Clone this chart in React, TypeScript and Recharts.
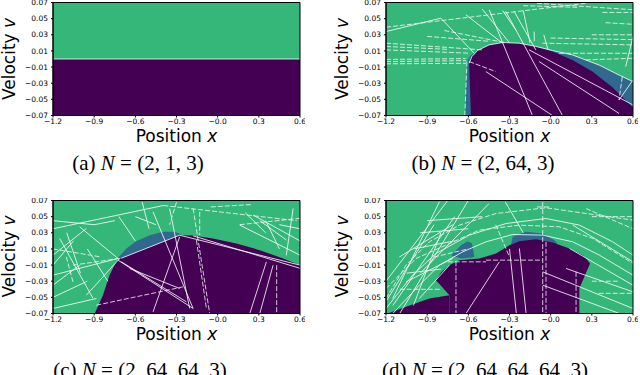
import React from 'react';
import { ComposedChart, XAxis, YAxis, Area, Line } from 'recharts';

const GREEN = '#35b779';
const PURPLE = '#440154';
const BLUE = '#31688e';
const SANS = '"DejaVu Sans", sans-serif';
const SERIF = '"Liberation Serif", "DejaVu Serif", serif';

// axis ticks
const xTicks = [-1.2, -0.9, -0.6, -0.3, 0, 0.3, 0.6];
const xTickLabels = ['−1.2', '−0.9', '−0.6', '−0.3', '−0.0', '0.3', '0.6'];
const yTicks = [-0.07, -0.05, -0.03, -0.01, 0.01, 0.03, 0.05, 0.07];
const yTickLabels = ['−0.07', '−0.05', '−0.03', '−0.01', '0.01', '0.03', '0.05', '0.07'];

const captions = ['(a)', '(b)', '(c)', '(d)'];
const architectures = ['(2, 1, 3)', '(2, 64, 3)', '(2, 64, 64, 3)', '(2, 64, 64, 64, 3)'];

type Range = { x: number; lo: number; hi: number };
type Pt = [number, number];

// ---- (a) N = (2,1,3)
const aPurple: Range[][] = [[
  { x: -1.2, lo: -0.07, hi: 0 },
  { x: 0.6, lo: -0.07, hi: 0 },
]];
const aBlue: Range[][] = [];
const aSolid: Pt[][] = [[[-1.2, 0], [0.6, 0]]];
const aDashed: Pt[][] = [];

// ---- (b) N = (2,64,3)
const bBlue: Range[][] = [[
  { x: -0.625, lo: -0.07, hi: -0.07 },
  { x: -0.61, lo: -0.07, hi: -0.003 },
  { x: -0.585, lo: -0.07, hi: 0.004 },
  { x: -0.533, lo: -0.07, hi: 0.0105 },
  { x: -0.448, lo: -0.07, hi: 0.0175 },
  { x: -0.351, lo: -0.07, hi: 0.0204 },
  { x: -0.23, lo: -0.07, hi: 0.0196 },
  { x: -0.108, lo: -0.07, hi: 0.0156 },
  { x: 0.013, lo: -0.07, hi: 0.0105 },
  { x: 0.159, lo: -0.07, hi: 0.005 },
  { x: 0.353, lo: -0.07, hi: -0.0075 },
  { x: 0.5, lo: -0.07, hi: -0.02 },
  { x: 0.6, lo: -0.07, hi: -0.028 },
]];
const bPurple: Range[][] = [[
  { x: -0.594, lo: -0.0053, hi: -0.0053 },
  { x: -0.581, lo: -0.07, hi: 0.0003 },
  { x: -0.574, lo: -0.07, hi: 0.003 },
  { x: -0.533, lo: -0.07, hi: 0.0105 },
  { x: -0.448, lo: -0.07, hi: 0.0175 },
  { x: -0.351, lo: -0.07, hi: 0.0204 },
  { x: -0.23, lo: -0.07, hi: 0.0196 },
  { x: -0.108, lo: -0.07, hi: 0.0154 },
  { x: 0.013, lo: -0.07, hi: 0.0092 },
  { x: 0.159, lo: -0.07, hi: -0.0012 },
  { x: 0.304, lo: -0.07, hi: -0.0156 },
  { x: 0.45, lo: -0.07, hi: -0.0351 },
  { x: 0.6, lo: -0.07, hi: -0.06 },
]];
const bSolid: Pt[][] = [
  [[-0.594, -0.0053], [-0.574, 0.003], [-0.533, 0.0105], [-0.448, 0.0175], [-0.351, 0.0204], [-0.23, 0.0196], [-0.108, 0.0156], [0.013, 0.0105], [0.159, 0.005], [0.353, -0.0075], [0.5, -0.02], [0.6, -0.028]],
  [[-1.2, 0.034], [-0.8, 0.0506]],
  [[-0.8, 0.0506], [-0.557, 0.0071]],
  [[-0.618, 0.0548], [-0.351, 0.0196]],
  [[-0.448, 0.061], [-0.133, -0.07]],
  [[-0.327, 0.0589], [0.086, -0.07]],
  [[-0.266, 0.0589], [-0.108, 0.0113]],
  [[-0.157, 0.0113], [0.6, -0.057]],
  [[-0.084, -0.0032], [0.498, -0.0674]],
  [[-0.472, -0.0156], [0.013, -0.07]],
  [[0.547, -0.0094], [0.6, 0.0279]],
  [[0.498, -0.0508], [0.6, -0.026]],
  [[-0.12, 0.034], [-0.12, 0.022]],
  [[-0.35, 0.06], [-0.25, 0.035]],
  [[-0.5, 0.062], [-0.3, 0.02]],
  [[-0.2, 0.06], [-0.15, 0.02]],
  [[-0.05, 0.03], [-0.02, 0.012]],
];
const bDashed: Pt[][] = [
  [[-1.2, 0.0394], [0.256, 0.069]],
  [[-0.1, 0.069], [0.6, 0.061]],
  [[-0.775, 0.0353], [-0.339, 0.0204]],
  [[-0.594, -0.0032], [-0.4, -0.0156]],
  [[-1.2, 0.0113], [-0.594, 0.0072]],
  [[-1.2, -0.0032], [-0.618, -0.002]],
  [[-1.2, -0.006], [-0.618, -0.0053]],
  [[-1.2, 0.0196], [-0.496, 0.0113]],
  [[-1.2, 0.0155], [-0.75, 0.012]],
  [[-1.2, -0.0005], [-0.62, 0.0005]],
  [[-0.9, 0.028], [-0.45, 0.022]],
  [[-0.2, 0.066], [0.2, 0.064]],
  [[0.377, 0.0577], [0.6, 0.0577]],
  [[0.4, 0.045], [0.6, 0.043]],
  [[0.3, 0.03], [0.6, 0.03]],
  [[0.0, 0.026], [0.6, 0.024]],
  [[-0.06, 0.0196], [0.6, 0.0175]],
  [[0.061, 0.0071], [0.6, 0.0071]],
  [[0.256, -0.0011], [0.6, 0.0009]],
  [[0.522, -0.022], [0.498, -0.0508]],
  [[-0.625, -0.07], [-0.61, -0.003]],
];

// ---- (c) N = (2,64,64,3)
const cBlue: Range[][] = [[
  { x: -0.735, lo: -0.006, hi: -0.006 },
  { x: -0.726, lo: -0.01, hi: -0.001 },
  { x: -0.665, lo: -0.01, hi: 0.0106 },
  { x: -0.593, lo: -0.01, hi: 0.0196 },
  { x: -0.495, lo: 0, hi: 0.027 },
  { x: -0.398, lo: 0.01, hi: 0.0312 },
  { x: -0.313, lo: 0.015, hi: 0.0312 },
  { x: -0.264, lo: 0.02, hi: 0.028 },
]];
const cPurple: Range[][] = [[
  { x: -0.896, lo: -0.07, hi: -0.07 },
  { x: -0.836, lo: -0.07, hi: -0.0473 },
  { x: -0.787, lo: -0.07, hi: -0.022 },
  { x: -0.738, lo: -0.07, hi: -0.006 },
  { x: -0.702, lo: -0.07, hi: -0.0015 },
  { x: -0.593, lo: -0.07, hi: 0.0056 },
  { x: -0.471, lo: -0.07, hi: 0.0139 },
  { x: -0.374, lo: -0.07, hi: 0.0204 },
  { x: -0.277, lo: -0.07, hi: 0.027 },
  { x: -0.179, lo: -0.07, hi: 0.0265 },
  { x: -0.034, lo: -0.07, hi: 0.023 },
  { x: 0.137, lo: -0.07, hi: 0.0167 },
  { x: 0.307, lo: -0.07, hi: 0.0085 },
  { x: 0.477, lo: -0.07, hi: -0.0018 },
  { x: 0.6, lo: -0.07, hi: -0.0101 },
]];
const cSolid: Pt[][] = [
  [[-1.2, 0.035], [-0.396, 0.0638]],
  [[-1.006, 0.0374], [-0.726, -0.0018]],
  [[-1.2, 0.0023], [-0.957, 0.0353]],
  [[-1.2, -0.0225], [-0.726, -0.0018]],
  [[-1.151, 0.0229], [-0.908, -0.0514]],
  [[-1.2, -0.0349], [-1.006, -0.0101]],
  [[-0.957, -0.0473], [-0.714, -0.0018]],
  [[-1.2, -0.0638], [-0.884, -0.0514]],
  [[-1.2, 0.045], [-0.9, 0.04]],
  [[-1.1, 0.03], [-1.0, -0.02]],
  [[-1.2, -0.01], [-1.05, 0.02]],
  [[-0.95, 0.01], [-0.8, -0.03]],
  [[-1.2, -0.05], [-0.95, -0.03]],
  [[-0.9, 0.04], [-0.75, 0.045]],
  [[-0.72, 0.05], [-0.6, 0.02]],
  [[-0.6, 0.05], [-0.45, 0.04]],
  [[-0.726, -0.0039], [-0.179, -0.0638]],
  [[-0.702, -0.006], [-0.228, -0.0555]],
  [[-0.471, 0.056], [-0.179, -0.0638]],
  [[-0.35, 0.06], [-0.204, -0.0638]],
  [[-0.277, 0.025], [-0.471, -0.068]],
  [[-0.641, -0.0142], [-0.277, -0.039]],
  [[0.355, -0.006], [0.234, -0.07]],
  [[0.404, -0.0101], [0.307, -0.07]],
  [[-0.702, -0.0015], [-0.277, 0.027]],
  [[-0.277, 0.027], [0.6, -0.0101]],
  [[-0.179, 0.0262], [0.6, -0.014]],
  [[0.161, 0.0395], [0.6, 0.0023]],
  [[0.258, 0.0519], [0.6, 0.02]],
  [[0.307, 0.045], [0.501, 0.021]],
  [[0.55, 0.06], [0.5, 0.002]],
  [[0.2, 0.055], [0.35, 0.03]],
  [[0.45, 0.04], [0.6, 0.035]],
  [[0.35, 0.045], [0.45, 0.01]],
  [[-0.55, 0.068], [-0.5, 0.035]],
];
const cDashed: Pt[][] = [
  [[-0.396, 0.0638], [0.576, 0.045]],
  [[-0.884, -0.0597], [-0.252, -0.037]],
  [[-0.179, 0.0601], [-0.058, -0.07]],
  [[-0.131, 0.056], [-0.131, 0.0271]],
  [[-0.155, 0.0209], [-0.082, -0.0638]],
  [[0.43, -0.0101], [0.43, -0.07]],
  [[-1.054, -0.0101], [-0.714, -0.0018]],
  [[-1.103, 0.0002], [-1.054, -0.031]],
  [[-1.2, 0.01], [-0.85, 0.0]],
  [[-0.05, 0.062], [0.25, 0.065]],
  [[-0.3, 0.068], [-0.35, 0.04]],
  [[0.161, 0.04], [0.6, 0.048]],
];

// ---- (d) N = (2,64,64,64,3)
const dBlue: Range[][] = [
  [
    { x: -0.726, lo: 0.0023, hi: 0.0023 },
    { x: -0.653, lo: -0.0018, hi: 0.0147 },
    { x: -0.605, lo: -0.001, hi: 0.0196 },
    { x: -0.573, lo: -0.0006, hi: 0.0167 },
    { x: -0.556, lo: 0.0002, hi: 0.0002 },
  ],
  [
    { x: -0.29, lo: 0.014, hi: 0.014 },
    { x: -0.277, lo: 0.013, hi: 0.025 },
    { x: -0.18, lo: 0.015, hi: 0.0312 },
    { x: -0.058, lo: 0.015, hi: 0.029 },
    { x: 0.027, lo: 0.015, hi: 0.0209 },
    { x: 0.05, lo: 0.016, hi: 0.016 },
  ],
];
const dPurple: Range[][] = [
  [
    { x: -1.188, lo: -0.07, hi: -0.07 },
    { x: -1.054, lo: -0.07, hi: -0.0617 },
    { x: -0.884, lo: -0.07, hi: -0.0514 },
    { x: -0.738, lo: -0.07, hi: -0.0473 },
  ],
  [
    { x: -0.836, lo: -0.0287, hi: -0.0287 },
    { x: -0.799, lo: -0.0357, hi: -0.0192 },
    { x: -0.738, lo: -0.0473, hi: -0.0101 },
    { x: -0.738, lo: -0.07, hi: -0.0101 },
    { x: -0.665, lo: -0.07, hi: -0.0039 },
    { x: -0.52, lo: -0.07, hi: -0.0018 },
    { x: -0.398, lo: -0.07, hi: 0.0043 },
    { x: -0.301, lo: -0.07, hi: 0.0147 },
    { x: -0.228, lo: -0.07, hi: 0.0196 },
    { x: -0.107, lo: -0.07, hi: 0.0221 },
    { x: 0.015, lo: -0.07, hi: 0.018 },
    { x: 0.137, lo: -0.07, hi: 0.0106 },
    { x: 0.209, lo: -0.07, hi: 0.0044 },
    { x: 0.209, lo: -0.0391, hi: 0.0044 },
    { x: 0.234, lo: -0.0291, hi: 0.0023 },
    { x: 0.258, lo: -0.0196, hi: -0.0018 },
    { x: 0.287, lo: -0.008, hi: -0.008 },
  ],
];
const dSolid: Pt[][] = [
  [[-1.2, -0.0638], [-1.006, -0.0225], [-0.836, 0.0043], [-0.593, 0.0271], [-0.325, 0.0415], [-0.034, 0.0477], [0.209, 0.0395], [0.452, 0.0188], [0.6, 0.0023]],
  [[-1.151, -0.07], [-0.957, -0.0349], [-0.811, -0.0101], [-0.641, 0.0064], [-0.471, 0.0188], [-0.277, 0.0279], [-0.058, 0.0271], [0.161, 0.0188], [0.355, 0.0023], [0.6, -0.0225]],
  [[-0.811, 0.0684], [-1.151, -0.0514]],
  [[-0.75, 0.07], [-1.2, -0.03]],
  [[-0.6, 0.07], [-1.1, -0.07]],
  [[-0.45, 0.066], [-0.95, -0.02]],
  [[-1.2, -0.055], [-0.85, 0.04]],
  [[-1.15, -0.06], [-0.7, 0.05]],
  [[-1.0, -0.06], [-0.8, 0.03]],
  [[-1.0, 0.01], [-0.7, 0.02]],
  [[-1.05, -0.02], [-0.8, -0.015]],
  [[-0.95, 0.03], [-0.6, 0.035]],
  [[-0.9, 0.045], [-0.5, 0.05]],
  [[-1.103, 0.0], [-0.714, 0.04]],
  [[-1.054, -0.0308], [-0.714, -0.0018]],
  [[-0.957, -0.0514], [-0.738, -0.0101]],
  [[-0.228, 0.0106], [-0.179, -0.07]],
  [[-0.374, -0.006], [-0.617, -0.07]],
  [[-0.058, -0.0184], [0.6, -0.0638]],
  [[-0.058, -0.0349], [0.501, -0.07]],
  [[0.112, -0.0142], [0.6, -0.0432]],
  [[0.137, 0.0106], [0.6, -0.035]],
  [[0.161, 0.0395], [0.6, -0.006]],
  [[-0.33, 0.068], [-0.2, 0.03]],
  [[-0.3, 0.01], [-0.25, -0.07]],
];
const dDashed: Pt[][] = [
  [[-1.2, -0.0514], [-1.054, -0.0101], [-0.884, 0.0188], [-0.665, 0.0395], [-0.398, 0.0539], [-0.034, 0.061], [0.258, 0.0539], [0.6, 0.0457]],
  [[-1.2, -0.039], [-0.981, -0.0018], [-0.763, 0.0147], [-0.52, 0.0333], [-0.228, 0.0395], [0.063, 0.0374], [0.307, 0.023], [0.6, -0.008]],
  [[-0.69, -0.0052], [-0.69, -0.07]],
  [[-0.058, 0.068], [-0.058, -0.07]],
  [[-0.034, 0.0188], [-0.034, -0.07]],
  [[0.185, -0.0184], [0.185, -0.07]],
  [[-0.471, -0.0039], [-0.058, -0.0039]],
  [[-0.75, -0.006], [-0.471, -0.006]],
  [[-1.1, -0.04], [-0.8, -0.04]],
  [[-0.85, 0.0], [-0.6, 0.01]],
  [[-0.4, 0.04], [-0.3, 0.0]],
  [[0.3, 0.05], [0.6, 0.05]],
  [[0.3, -0.03], [0.5, -0.03]],
  [[0.35, -0.045], [0.6, -0.045]],
  [[0.258, 0.06], [0.6, 0.035]],
  [[-0.1, 0.062], [0.0, 0.062]],
];

const panels = [
  { purple: aPurple, blue: aBlue, solid: aSolid, dashed: aDashed },
  { purple: bPurple, blue: bBlue, solid: bSolid, dashed: bDashed },
  { purple: cPurple, blue: cBlue, solid: cSolid, dashed: cDashed },
  { purple: dPurple, blue: dBlue, solid: dSolid, dashed: dDashed },
];

// layout (pixels)
const PLOT_W = 247;
const PLOT_H = 113;
const Y_AXIS_W = 45;
const X_AXIS_H = 20;
const TOP_PAD = 2.5;
const plotLefts = [53, 386, 53, 386];
const plotTops = [2.5, 2.5, 200, 200];
const captionX = [138, 483, 140, 485];
const captionY = [170, 170, 377, 377];

const toPts = (line: Pt[]) => line.map(([x, v]) => ({ x, v }));
const range = (d: Range) => [d.lo, d.hi];

function Panel({ idx }: { idx: number }) {
  const p = panels[idx];
  const left = plotLefts[idx] - Y_AXIS_W - 8;
  const top = plotTops[idx] - TOP_PAD;
  const background: Range[] = [
    { x: -1.2, lo: -0.07, hi: 0.07 },
    { x: 0.6, lo: -0.07, hi: 0.07 },
  ];
  const frame: Pt[] = [[-1.2, -0.07], [0.6, -0.07], [0.6, 0.07], [-1.2, 0.07], [-1.2, -0.07]];
  return (
    <div style={{ position: 'absolute', left, top }}>
      <ComposedChart
        width={8 + Y_AXIS_W + PLOT_W + 5}
        height={TOP_PAD + PLOT_H + X_AXIS_H}
        margin={{ top: TOP_PAD, right: 5, bottom: 0, left: 8 }}
      >
        <XAxis
          type="number"
          dataKey="x"
          domain={[-1.2, 0.6]}
          ticks={xTicks}
          interval={0}
          height={X_AXIS_H}
          tickSize={2}
          tickMargin={1.5}
          tickFormatter={(_v: number, i: number) => xTickLabels[i]}
          tick={{ fontSize: 7.5, fontFamily: SANS, fill: '#000' }}
          tickLine={{ stroke: '#000' }}
          axisLine={{ stroke: '#000' }}
        />
        <YAxis
          type="number"
          domain={[-0.07, 0.07]}
          ticks={yTicks}
          interval={0}
          width={Y_AXIS_W}
          tickSize={2}
          tickMargin={3}
          tickFormatter={(_v: number, i: number) => yTickLabels[i]}
          tick={{ fontSize: 7.5, fontFamily: SANS, fill: '#000' }}
          tickLine={{ stroke: '#000' }}
          axisLine={{ stroke: '#000' }}
        />
        <Area data={background} dataKey={range} type="linear" stroke="none" fill={GREEN} fillOpacity={1} dot={false} activeDot={false} isAnimationActive={false} />
        {p.blue.map((b, i) => (
          <Area key={'b' + i} data={b} dataKey={range} type="linear" stroke="none" fill={BLUE} fillOpacity={1} dot={false} activeDot={false} isAnimationActive={false} />
        ))}
        {p.purple.map((b, i) => (
          <Area key={'p' + i} data={b} dataKey={range} type="linear" stroke="none" fill={PURPLE} fillOpacity={1} dot={false} activeDot={false} isAnimationActive={false} />
        ))}
        {p.solid.map((l, i) => (
          <Line key={'s' + i} data={toPts(l)} dataKey="v" type="linear" stroke="#fff" strokeWidth={0.9} strokeOpacity={0.9} dot={false} activeDot={false} isAnimationActive={false} />
        ))}
        {p.dashed.map((l, i) => (
          <Line key={'d' + i} data={toPts(l)} dataKey="v" type="linear" stroke="#fff" strokeWidth={0.9} strokeOpacity={0.85} strokeDasharray="5 2" dot={false} activeDot={false} isAnimationActive={false} />
        ))}
        <Line data={toPts(frame)} dataKey="v" type="linear" stroke="#000" strokeWidth={1} dot={false} activeDot={false} isAnimationActive={false} />
      </ComposedChart>
    </div>
  );
}

export default function App() {
  return (
    <div style={{ position: 'absolute', left: 0, top: 0, width: 640, height: 375, background: '#fff', overflow: 'hidden' }}>
      {panels.map((_, i) => (
        <Panel key={i} idx={i} />
      ))}
      <svg width={640} height={375} style={{ position: 'absolute', left: 0, top: 0, pointerEvents: 'none' }}>
        {panels.map((_, i) => (
          <g key={i}>
            <text
              x={plotLefts[i] + PLOT_W / 2}
              y={plotTops[i] + 139.5}
              textAnchor="middle"
              fontSize={17}
              fontFamily={SANS}
              fill="#000"
            >
              Position <tspan fontStyle="italic">x</tspan>
            </text>
            <text
              transform={`translate(${plotLefts[i] - 38}, ${plotTops[i] + PLOT_H / 2}) rotate(-90)`}
              textAnchor="middle"
              fontSize={17}
              fontFamily={SANS}
              fill="#000"
            >
              Velocity <tspan fontStyle="italic">v</tspan>
            </text>
            <text x={captionX[i]} y={captionY[i]} textAnchor="middle" fontSize={21} fontFamily={SERIF} fill="#000">
              {captions[i]} <tspan fontStyle="italic">N</tspan> = {architectures[i]}
            </text>
          </g>
        ))}
      </svg>
    </div>
  );
}
